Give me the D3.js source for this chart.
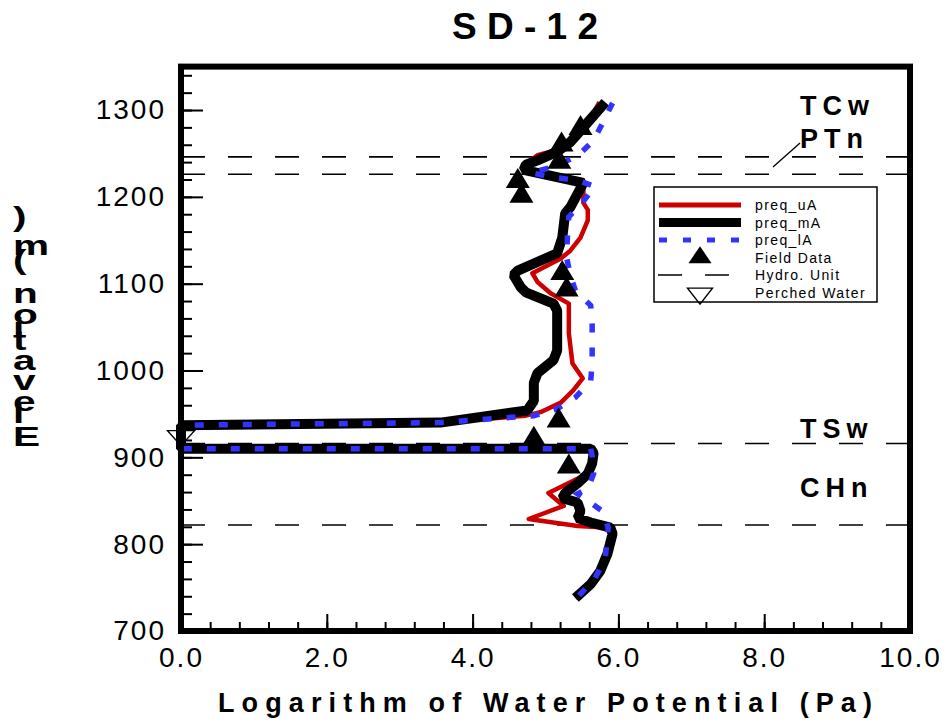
<!DOCTYPE html>
<html>
<head>
<meta charset="utf-8">
<script src="https://cdn.jsdelivr.net/npm/d3@7"></script>
<style>
  body { margin: 0; background: #fff; }
  svg { display: block; }
  text { font-family: "Liberation Sans", Arial, Helvetica, sans-serif; fill: #000; }
</style>
</head>
<body>
<div id="chart"></div>
<script>
// log10 water potential (Pa) vs elevation (m)
var preqUA = [[5.74,1309],[5.66,1297],[5.52,1280],[5.38,1268],[5.25,1257],[5.07,1252],[4.89,1248],[4.77,1240],[4.70,1231],
  [5.52,1216],[5.52,1193],[5.58,1185],[5.58,1173],[5.48,1153],[5.34,1138],[5.21,1129],[4.82,1112],[4.89,1102],[5.07,1089],
  [5.32,1077],[5.32,1043],[5.37,1008],[5.51,991],[5.38,977],[5.21,963],[4.93,952],[4.73,948],[3.56,940],[0.0,937],[0.0,910],
  [5.62,910],[5.66,908],[5.62,888],[5.48,877],[5.04,859],[5.25,844],[4.77,829],[5.44,821],[5.89,819],[5.92,812],[5.85,789],
  [5.75,769],[5.62,754],[5.41,738]];

var preqMA = [[5.82,1309],[5.52,1280],[5.34,1263],[5.16,1252],[4.89,1242],[4.73,1237],[4.70,1231],[5.52,1216],[5.34,1188],
  [5.27,1181],[5.23,1153],[5.16,1135],[4.62,1115],[4.56,1110],[4.66,1096],[4.73,1090],[5.11,1077],[5.16,1069],[5.16,1023],
  [5.11,1012],[4.89,997],[4.84,986],[4.84,965],[4.75,954],[3.56,940],[0.0,937],[0.0,910],[5.62,910],[5.66,905],[5.64,893],
  [5.58,881],[5.44,870],[5.27,859],[5.23,853],[5.44,848],[5.48,838],[5.44,830],[5.62,825],[5.89,819],[5.92,812],[5.85,789],
  [5.75,769],[5.62,754],[5.41,738]];

var preqLA = [[5.92,1308],[5.79,1286],[5.66,1265],[5.45,1248],[5.14,1235],[4.79,1228],[5.07,1223],[5.44,1219],[5.68,1212],
  [5.51,1194],[5.32,1177],[5.30,1153],[5.29,1130],[5.34,1110],[5.41,1092],[5.62,1075],[5.64,1054],[5.64,1008],[5.62,988],
  [5.41,969],[5.16,956],[4.84,948],[3.56,940],[0.0,937],[0.0,910],[5.62,910],[5.64,902],[5.66,881],[5.58,864],[5.44,858],
  [5.58,850],[5.78,838],[5.86,819],[5.82,784],[5.68,761],[5.44,739]];

var fieldData = [[5.48,1279],[5.22,1260],[5.19,1240],[4.62,1218],[4.67,1201],[5.23,1112],[5.29,1093],[5.18,942],[4.84,921],[5.32,889]];
var perchedWater = [[0.0,925]];

var hydroUnits = [1246, 1226, 916, 822];
var unitNames = ["TCw", "PTn", "TSw", "CHn"];
var unitNameElev = [1294, 1256, 922, 854];

var xMajor = [0, 2, 4, 6, 8, 10];
var yMajor = [700, 800, 900, 1000, 1100, 1200, 1300];

var legendNames = ["preq_uA", "preq_mA", "preq_lA", "Field Data", "Hydro. Unit", "Perched Water"];

var svg = d3.select("#chart").append("svg").attr("width", 947).attr("height", 726);

var x = d3.scaleLinear().domain([0, 10]).range([181, 910]);
var y = d3.scaleLinear().domain([700, 1350]).range([631, 66.6]);

var line = d3.line()
    .x(function(d) { return x(d[0]); })
    .y(function(d) { return y(d[1]); });

function tri(w, h, down) {
  // triangle centred on its centroid
  var s = down ? -1 : 1;
  return "M0," + (-s * h * 2 / 3) + "L" + (w / 2) + "," + (s * h / 3) + "L" + (-w / 2) + "," + (s * h / 3) + "Z";
}

// title
svg.append("text")
    .attr("x", 452).attr("y", 39)
    .attr("textLength", 146).attr("lengthAdjust", "spacing")
    .style("font-size", "37px").style("font-weight", "bold")
    .text("SD-12");

// hydro unit contacts
svg.append("g").selectAll("line")
    .data(hydroUnits)
  .enter().append("line")
    .attr("x1", x(0)).attr("x2", x(10))
    .attr("y1", function(d) { return y(d); })
    .attr("y2", function(d) { return y(d); })
    .attr("stroke", "#000").attr("stroke-width", 1.6)
    .attr("stroke-dasharray", "24,23");

svg.append("g").selectAll("text")
    .data(unitNames)
  .enter().append("text")
    .attr("x", 800)
    .attr("y", function(d, i) { return y(unitNameElev[i]); })
    .style("font-size", "27px").style("font-weight", "bold")
    .style("letter-spacing", "6px")
    .text(function(d) { return d; });

svg.append("line")
    .attr("x1", 773).attr("y1", 167).attr("x2", 800).attr("y2", 143)
    .attr("stroke", "#000").attr("stroke-width", 1.4);

// series
svg.append("path").datum(preqUA)
    .attr("d", line).attr("fill", "none")
    .attr("stroke", "#cc0000").attr("stroke-width", 4.5)
    .attr("stroke-linejoin", "round");

svg.append("path").datum(preqMA)
    .attr("d", line).attr("fill", "none")
    .attr("stroke", "#000").attr("stroke-width", 10)
    .attr("stroke-linejoin", "bevel");

svg.append("path").datum(preqLA)
    .attr("d", line).attr("fill", "none")
    .attr("stroke", "#3333ff").attr("stroke-width", 5.5)
    .attr("stroke-dasharray", "9,15");

svg.append("g").selectAll("path")
    .data(fieldData)
  .enter().append("path")
    .attr("transform", function(d) { return "translate(" + x(d[0]) + "," + y(d[1]) + ")"; })
    .attr("d", tri(24, 20, false))
    .attr("fill", "#000");

svg.append("g").selectAll("path")
    .data(perchedWater)
  .enter().append("path")
    .attr("transform", function(d) { return "translate(" + x(d[0]) + "," + y(d[1]) + ")"; })
    .attr("d", tri(27, 15, true))
    .attr("fill", "none").attr("stroke", "#000").attr("stroke-width", 1.4);

// axes, ticks pointing inward
var axisFont = function(g) {
  g.select(".domain").remove();
  g.selectAll("line").attr("stroke", "#000").attr("stroke-width", 2);
  g.selectAll("text")
      .style("font-family", "'Liberation Sans', Arial, sans-serif")
      .style("font-size", "28px").style("letter-spacing", "2px");
};

svg.append("g")
    .attr("transform", "translate(0," + y(700) + ")")
    .call(d3.axisBottom(x).tickValues(d3.range(0, 10.01, 0.4)).tickSize(-9).tickFormat(""))
    .call(axisFont);
svg.append("g")
    .attr("transform", "translate(0," + y(700) + ")")
    .call(d3.axisBottom(x).tickValues(xMajor).tickSize(-17).tickPadding(16).tickFormat(d3.format(".1f")))
    .call(axisFont);

svg.append("g")
    .attr("transform", "translate(" + x(0) + ",0)")
    .call(d3.axisLeft(y).tickValues(d3.range(700, 1341, 20)).tickSize(-11).tickFormat(""))
    .call(axisFont);
svg.append("g")
    .attr("transform", "translate(" + x(0) + ",0)")
    .call(d3.axisLeft(y).tickValues(yMajor).tickSize(-22).tickPadding(15).tickFormat(d3.format("d")))
    .call(axisFont);

// frame
svg.append("rect")
    .attr("x", x(0)).attr("y", y(1350))
    .attr("width", x(10) - x(0)).attr("height", y(700) - y(1350))
    .attr("fill", "none").attr("stroke", "#000").attr("stroke-width", 6);

// axis titles
svg.append("text")
    .attr("x", 218).attr("y", 712)
    .attr("textLength", 654).attr("lengthAdjust", "spacing")
    .style("font-size", "27px").style("font-weight", "bold")
    .text("Logarithm of Water Potential (Pa)");

svg.append("text")
    .attr("transform", "translate(13,446) scale(1.45,1) rotate(-90)")
    .attr("rotate", 90)
    .style("font-size", "28px").style("font-weight", "bold")
    .style("letter-spacing", "4.5px")
    .text("Elevation (m)");

// legend
var legend = svg.append("g").attr("transform", "translate(654,187)");
legend.append("rect")
    .attr("width", 223).attr("height", 115)
    .attr("fill", "#fff").attr("stroke", "#000").attr("stroke-width", 1.5);

var rowY = function(i) { return 18 + i * 17.5; };

legend.append("line").attr("x1", 5).attr("x2", 87).attr("y1", rowY(0)).attr("y2", rowY(0))
    .attr("stroke", "#cc0000").attr("stroke-width", 5);
legend.append("line").attr("x1", 5).attr("x2", 87).attr("y1", rowY(1)).attr("y2", rowY(1))
    .attr("stroke", "#000").attr("stroke-width", 9);
legend.append("line").attr("x1", 5).attr("x2", 95).attr("y1", rowY(2)).attr("y2", rowY(2))
    .attr("stroke", "#3333ff").attr("stroke-width", 5).attr("stroke-dasharray", "8,16");
legend.append("path").attr("transform", "translate(46," + rowY(3) + ")")
    .attr("d", tri(23, 17, false)).attr("fill", "#000");
legend.append("line").attr("x1", 4).attr("x2", 88).attr("y1", rowY(4)).attr("y2", rowY(4))
    .attr("stroke", "#000").attr("stroke-width", 1.5).attr("stroke-dasharray", "24,23");
legend.append("path").attr("transform", "translate(46," + (rowY(5) + 1) + ")")
    .attr("d", tri(25, 16, true)).attr("fill", "none").attr("stroke", "#000").attr("stroke-width", 1.4);

legend.selectAll("text.lbl")
    .data(legendNames)
  .enter().append("text")
    .attr("class", "lbl")
    .attr("x", 101)
    .attr("y", function(d, i) { return rowY(i) + 5; })
    .style("font-size", "14px").style("letter-spacing", "1.4px")
    .text(function(d) { return d; });
</script>
</body>
</html>
